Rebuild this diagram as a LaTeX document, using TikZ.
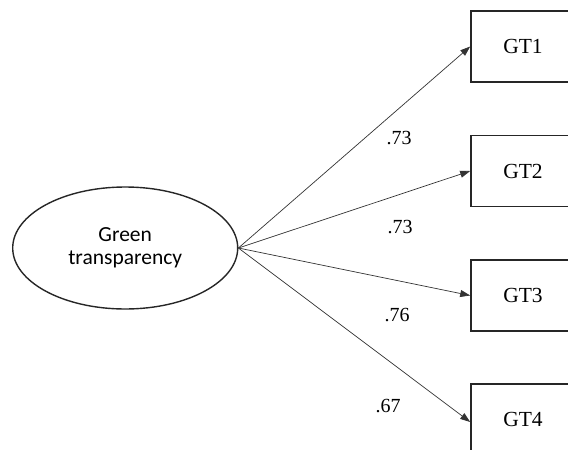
\documentclass[tikz,border=0pt]{standalone}
\usepackage{fontspec}
\setmainfont{Liberation Serif}
\newfontfamily\latentfont{Carlito}
\usetikzlibrary{shapes.geometric,arrows.meta}
\begin{document}
\begin{tikzpicture}[x=1pt,y=-1pt,
  latent/.style={ellipse,draw=black!85,line width=1.4pt,minimum width=225pt,minimum height=122pt,
    inner sep=0pt,align=center,font=\latentfont\fontsize{21.5}{23.5}\selectfont},
  indicator/.style={rectangle,draw=black!85,line width=1.6pt,minimum width=104pt,minimum height=71pt,
    inner sep=0pt,font=\fontsize{21.5}{24}\selectfont},
  loading/.style={-{Triangle[length=10pt,width=7pt]},draw=black!80,line width=0.7pt},
  coef/.style={font=\fontsize{20}{24}\selectfont,inner sep=0pt}]
  \useasboundingbox (0,0) rectangle (568,450);
  \clip (0,0) rectangle (568,450);
  % latent construct
  \node[latent] (gt) at (125.2,248) {Green\\transparency};
  % observed indicators
  \node[indicator] (gt1) at (523,46.5) {GT1};
  \node[indicator] (gt2) at (523,171) {GT2};
  \node[indicator] (gt3) at (523,295.5) {GT3};
  \node[indicator] (gt4) at (523,419.5) {GT4};
  % factor loadings
  \draw[loading] (gt.east) -- (gt1.west);
  \draw[loading] (gt.east) -- (gt2.west);
  \draw[loading] (gt.east) -- (gt3.west);
  \draw[loading] (gt.east) -- ([yshift=-2.5pt]gt4.west);
  \node[coef] (l1) at (399,138) {.73};
  \node[coef] (l2) at (400,227) {.73};
  \node[coef] (l3) at (397,315) {.76};
  \node[coef] (l4) at (388,406) {.67};
\end{tikzpicture}
\end{document}
